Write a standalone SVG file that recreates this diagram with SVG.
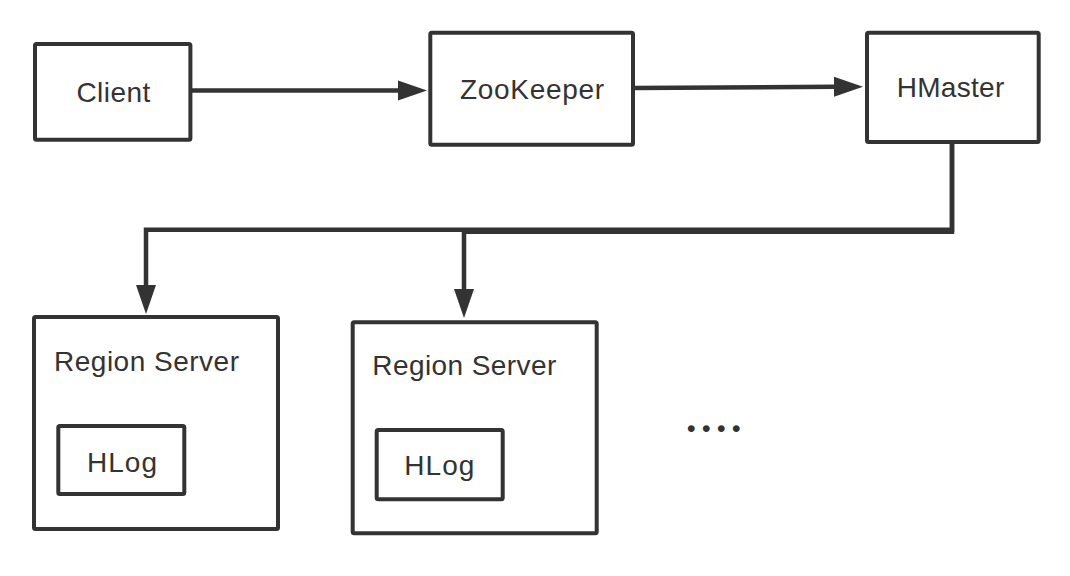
<svg xmlns="http://www.w3.org/2000/svg" width="1070" height="576" viewBox="0 0 1070 576">
  <style>
    .box { fill: #ffffff; stroke: #333333; stroke-width: 4; }
    .lbl { font-family: "Liberation Sans", Arial, Helvetica, sans-serif; font-size: 28px; fill: #333333; }
    .conn { fill: none; stroke: #333333; stroke-width: 4.5; stroke-linejoin: miter; }
    .dots { font-family: "Liberation Serif", "Times New Roman", serif; font-size: 42px; font-weight: bold; fill: #333333; letter-spacing: 4.5px; }
  </style>
  <defs>
    <marker id="arrow" markerUnits="userSpaceOnUse" markerWidth="30" markerHeight="22" viewBox="0 0 30 22" refX="1" refY="11" orient="auto">
      <path d="M0,1 L29,11 L0,21 Z" fill="#333333"/>
    </marker>
  </defs>
  <rect width="1070" height="576" fill="#ffffff"/>

  <g id="connectors">
    <path class="conn" d="M190,90.6 L399,90.6" marker-end="url(#arrow)"/>
    <path class="conn" d="M633,88 L835,86.8" marker-end="url(#arrow)"/>
    <path class="conn" d="M952,142 V229.7 H146 V286" marker-end="url(#arrow)"/>
    <path class="conn" d="M952,142 V231.8 H464 V290" marker-end="url(#arrow)"/>
  </g>

  <g id="client">
    <rect class="box" x="35" y="44" width="155.4" height="95.8" rx="1.5"/>
    <text class="lbl" x="76.4" y="102.4" textLength="74">Client</text>
  </g>

  <g id="zookeeper">
    <rect class="box" x="430.3" y="32.7" width="202.7" height="112" rx="1.5"/>
    <text class="lbl" x="460" y="99.3" textLength="144">ZooKeeper</text>
  </g>

  <g id="hmaster">
    <rect class="box" x="867" y="32.7" width="171.7" height="109.3" rx="1.5"/>
    <text class="lbl" x="896.7" y="97.3" textLength="107.6">HMaster</text>
  </g>

  <g id="regionserver1">
    <rect class="box" x="34" y="317" width="244" height="212" rx="1.5"/>
    <text class="lbl" x="54" y="371" textLength="185">Region Server</text>
    <g id="hlog1">
      <rect class="box" x="58.3" y="426" width="126" height="68" rx="1.5"/>
      <text class="lbl" x="87" y="472" textLength="70">HLog</text>
    </g>
  </g>

  <g id="regionserver2">
    <rect class="box" x="352.7" y="322.3" width="244" height="211" rx="1.5"/>
    <text class="lbl" x="372.3" y="375" textLength="184">Region Server</text>
    <g id="hlog2">
      <rect class="box" x="376.7" y="430" width="126" height="69.3" rx="1.5"/>
      <text class="lbl" x="404.3" y="475" textLength="70">HLog</text>
    </g>
  </g>

  <g id="ellipsis">
    <text class="dots" x="686" y="431.7">....</text>
  </g>
</svg>
